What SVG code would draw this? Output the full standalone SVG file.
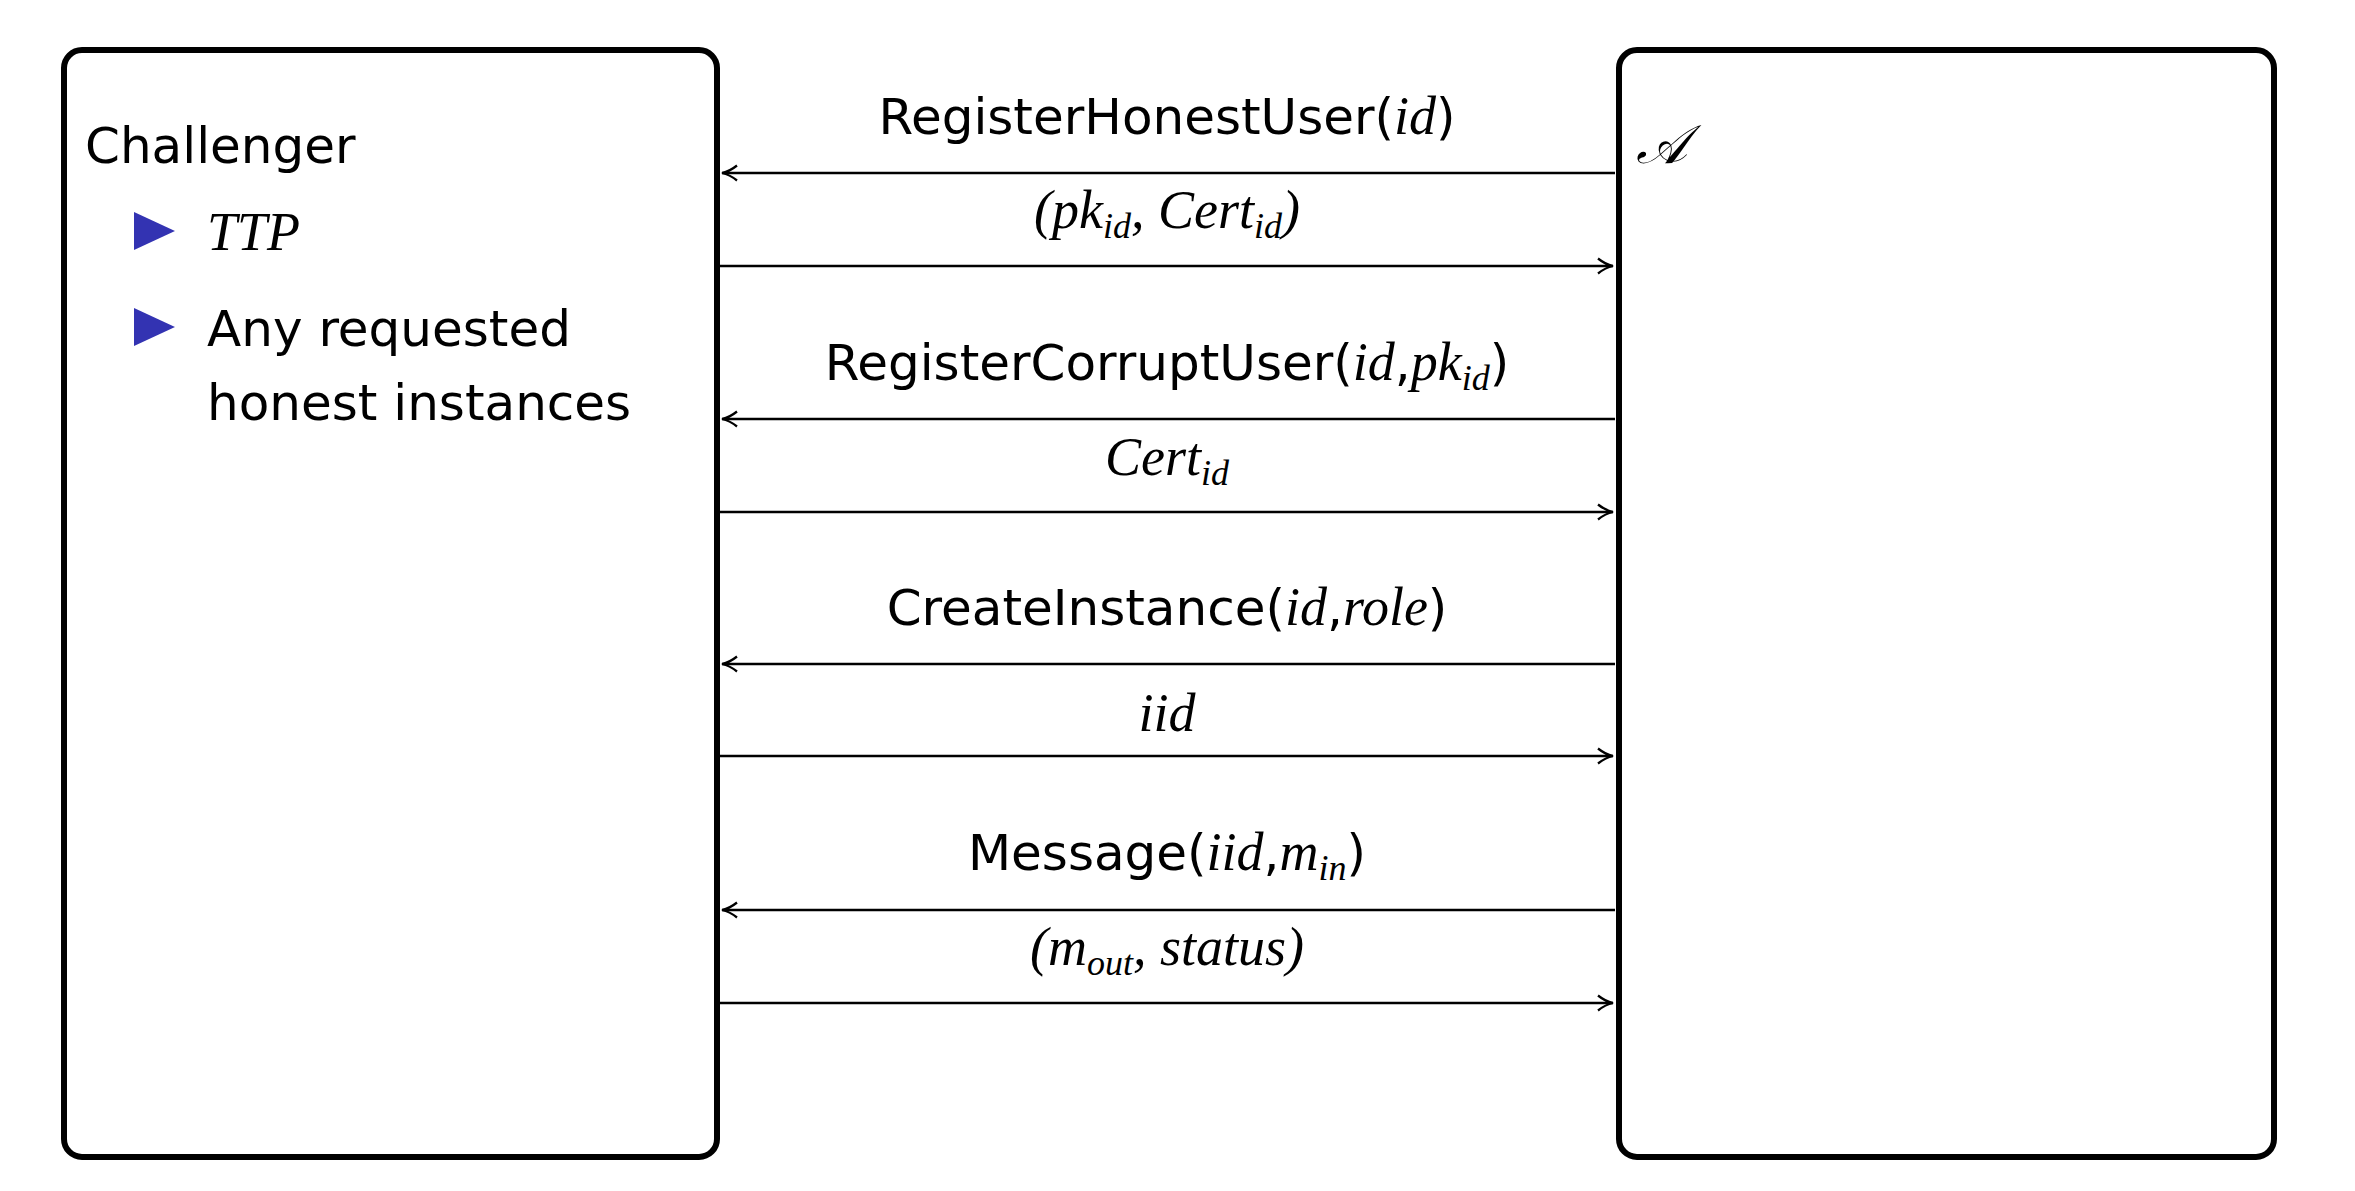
<svg xmlns="http://www.w3.org/2000/svg" width="2355" height="1191" viewBox="0 0 2355 1191">
<style>
.box{fill:#fff;stroke:#000;stroke-width:6}
.t{font-family:"DejaVu Sans","Liberation Sans",sans-serif;font-size:50px;fill:#000}
.m{font-family:"Liberation Serif",serif;font-style:italic;font-size:54px;fill:#000}
.s{font-size:36px}
.c{text-anchor:middle}
.ar{stroke:#000;stroke-width:2.5;fill:none}
</style>
<defs><marker id="ah" viewBox="0 0 10 10" refX="10" refY="5" markerWidth="8" markerHeight="8" markerUnits="userSpaceOnUse" orient="auto"><path d="M0,0 L10,5 L0,10 L3,5 Z" fill="#000"/></marker>
<marker id="a" viewBox="0 0 12 12" refX="11" refY="6" markerWidth="18" markerHeight="18" markerUnits="userSpaceOnUse" orient="auto"><path d="M1,1 Q6,5 11,6 Q6,7 1,11" fill="none" stroke="#000" stroke-width="1.5"/></marker></defs>
<g id="challenger">
<rect class="box" x="64" y="50" width="653" height="1107" rx="18"/>
<text class="t" x="85" y="163">Challenger</text>
<path d="M134,212 L175,231 L134,250 Z" fill="#3333b2"/>
<text class="m" x="207" y="250">TTP</text>
<path d="M134,308 L175,327 L134,346 Z" fill="#3333b2"/>
<text class="t" x="207" y="346">Any requested</text>
<text class="t" x="207" y="420">honest instances</text>
</g>
<g id="adversary">
<rect class="box" x="1619" y="50" width="655" height="1107" rx="18"/>
<text class="m" x="1636" y="163" style="font-family:'DejaVu Serif',serif">𝒜</text>
</g>
<g id="connectors">
<line class="ar" x1="1615" y1="173" x2="722" y2="173" marker-end="url(#a)"/>
<line class="ar" x1="720" y1="266" x2="1613" y2="266" marker-end="url(#a)"/>
<line class="ar" x1="1615" y1="419" x2="722" y2="419" marker-end="url(#a)"/>
<line class="ar" x1="720" y1="512" x2="1613" y2="512" marker-end="url(#a)"/>
<line class="ar" x1="1615" y1="664" x2="722" y2="664" marker-end="url(#a)"/>
<line class="ar" x1="720" y1="756" x2="1613" y2="756" marker-end="url(#a)"/>
<line class="ar" x1="1615" y1="910" x2="722" y2="910" marker-end="url(#a)"/>
<line class="ar" x1="720" y1="1003" x2="1613" y2="1003" marker-end="url(#a)"/>
<text class="t c" x="1167" y="134">RegisterHonestUser(<tspan class="m">id</tspan>)</text>
<text class="m c" x="1167" y="228">(pk<tspan class="s" dy="10">id</tspan><tspan dy="-10">, Cert</tspan><tspan class="s" dy="10">id</tspan><tspan dy="-10">)</tspan></text>
<text class="t c" x="1167" y="380">RegisterCorruptUser(<tspan class="m">id</tspan>,<tspan class="m">pk</tspan><tspan class="m s" dy="10">id</tspan><tspan dy="-10">)</tspan></text>
<text class="m c" x="1167" y="475">Cert<tspan class="s" dy="10">id</tspan></text>
<text class="t c" x="1167" y="625">CreateInstance(<tspan class="m">id</tspan>,<tspan class="m">role</tspan>)</text>
<text class="m c" x="1167" y="731">iid</text>
<text class="t c" x="1167" y="870">Message(<tspan class="m">iid</tspan>,<tspan class="m">m</tspan><tspan class="m s" dy="10">in</tspan><tspan dy="-10">)</tspan></text>
<text class="m c" x="1167" y="965">(m<tspan class="s" dy="10">out</tspan><tspan dy="-10">, status)</tspan></text>
</g>
</svg>
